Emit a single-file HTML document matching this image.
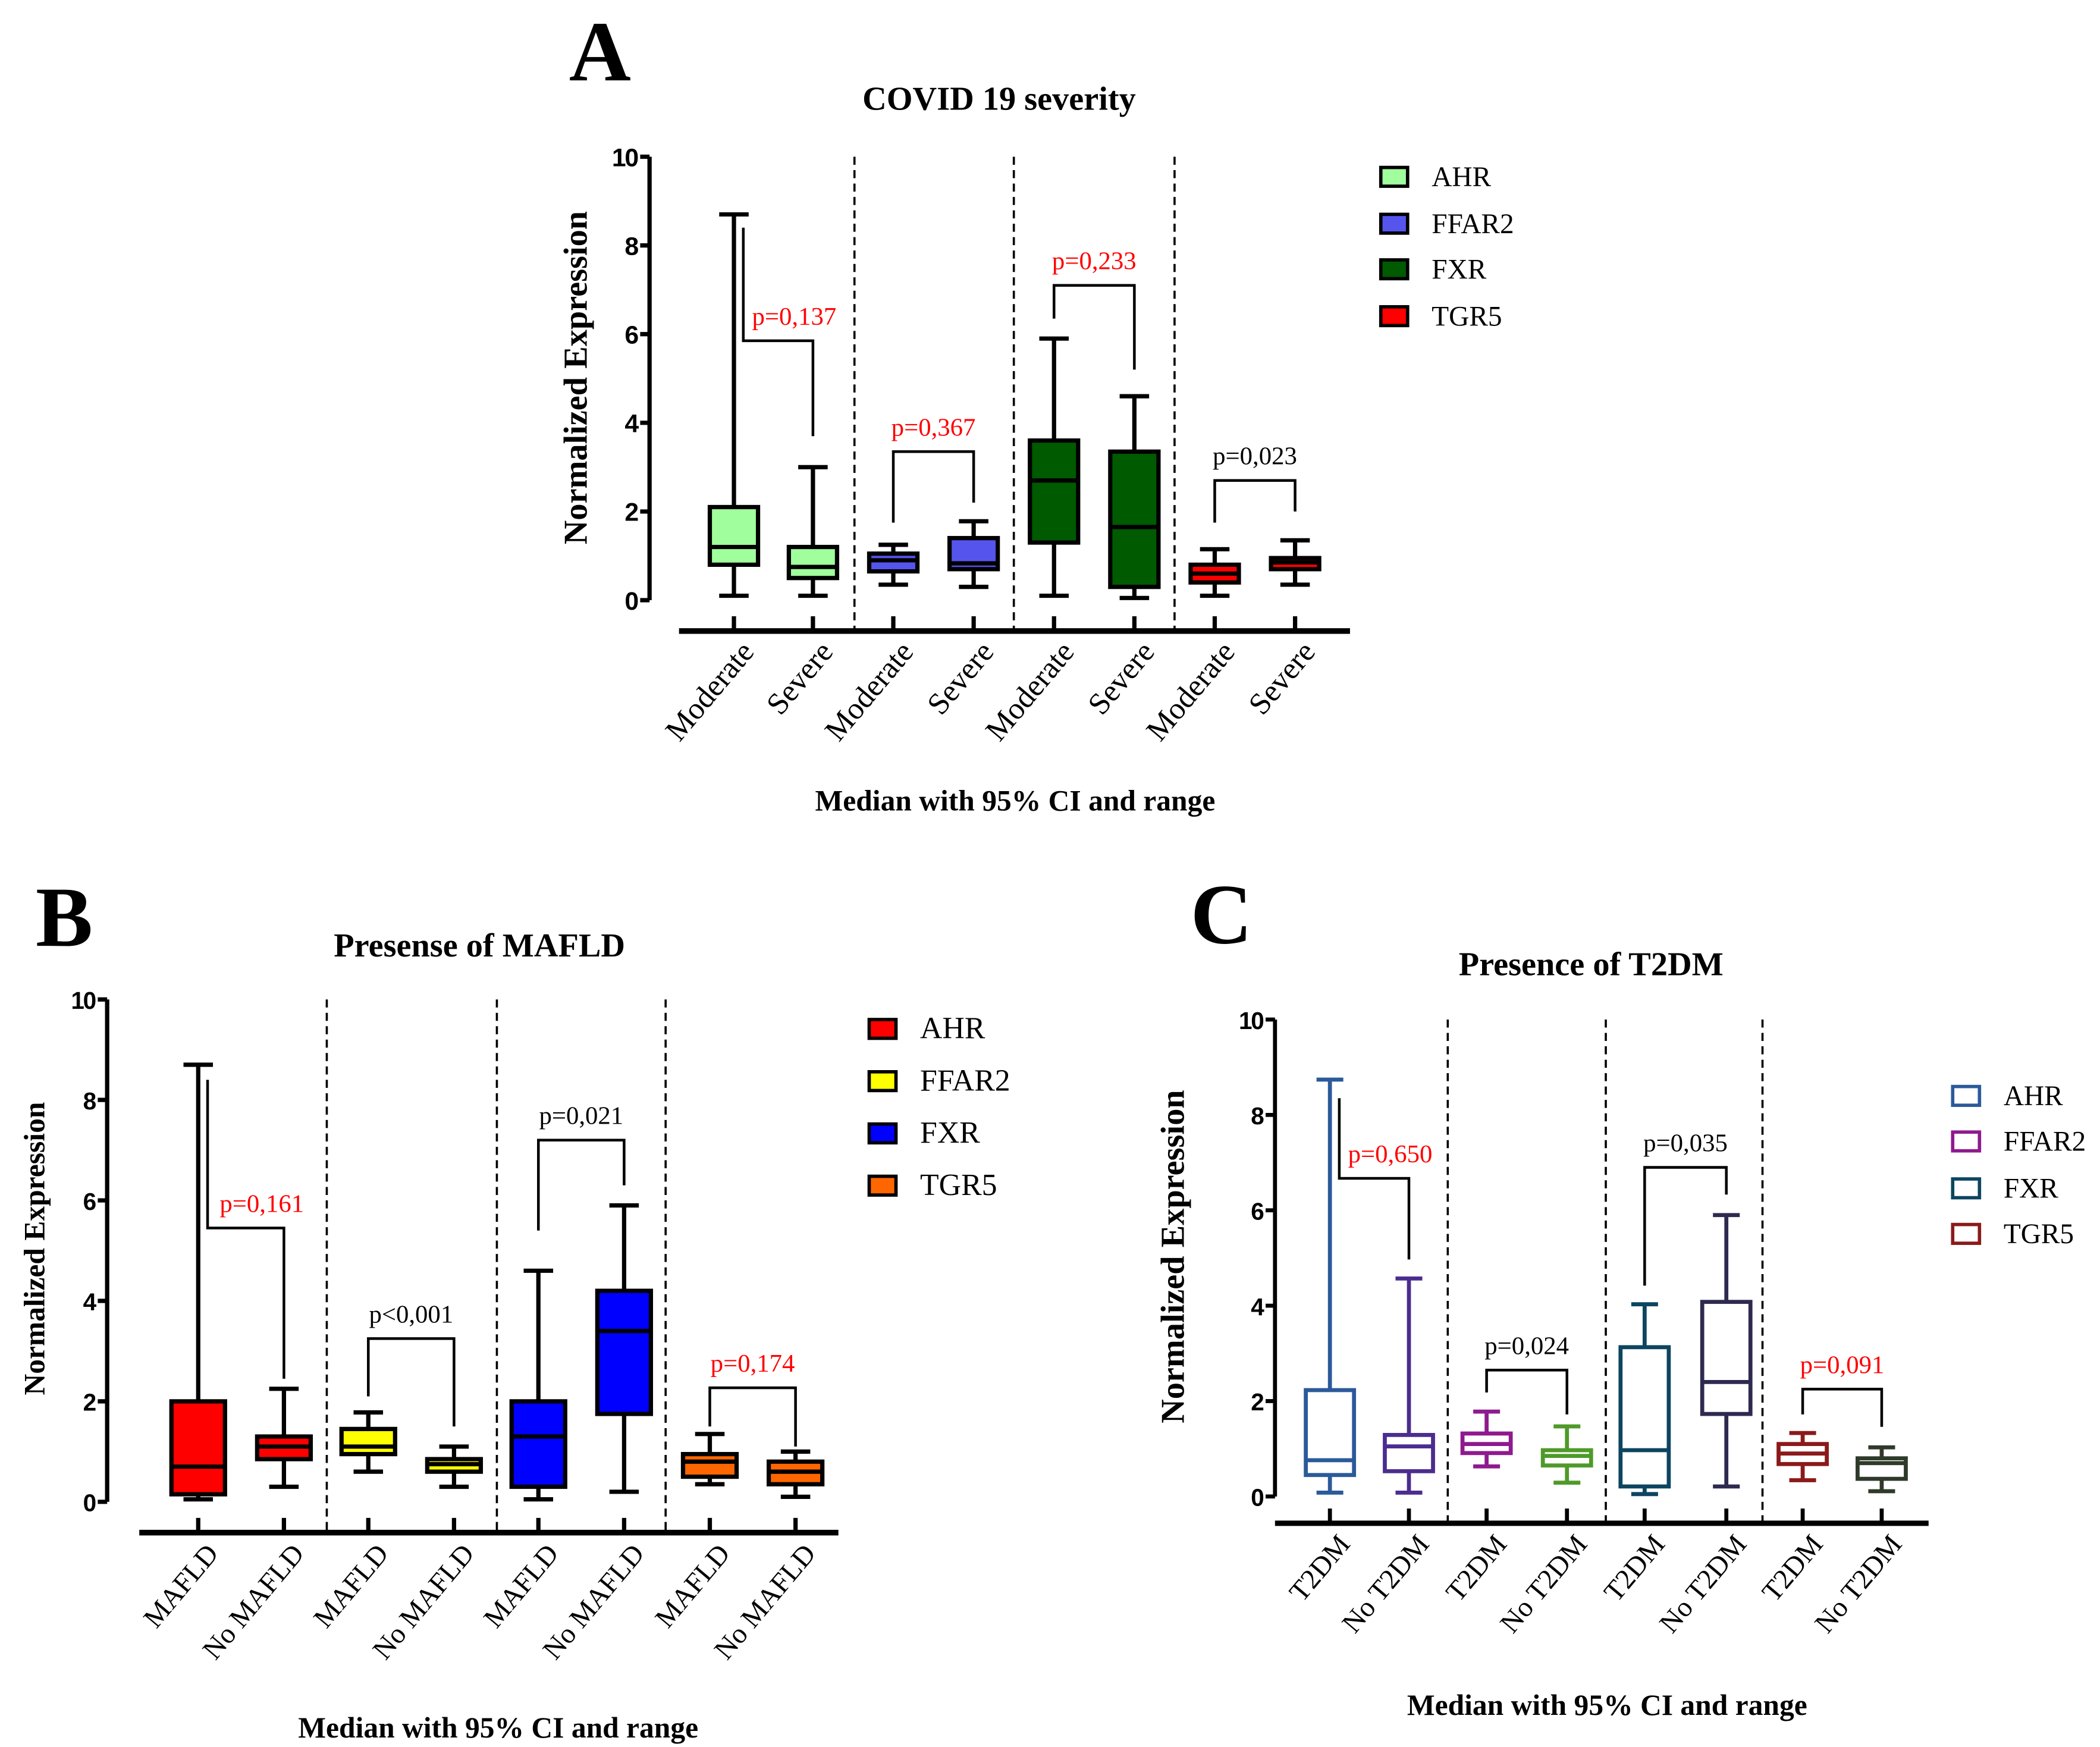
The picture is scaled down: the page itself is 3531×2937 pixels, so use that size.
<!DOCTYPE html>
<html><head><meta charset="utf-8"><style>
html,body{margin:0;padding:0;background:#fff}
svg{display:block}
text{font-family:"Liberation Serif",serif}
</style></head><body>
<svg id="fig" xmlns="http://www.w3.org/2000/svg" width="3531" height="2937" viewBox="0 0 1568 1304" preserveAspectRatio="none">
<rect width="1568" height="1304" fill="#fff"/>
</svg>
<script>
// ---------- Panel A data ----------
const catsA = ["Moderate","Severe","Moderate","Severe","Moderate","Severe","Moderate","Severe"];
const minA = [0.1,0.1,0.35,0.3,0.1,0.05,0.1,0.35];
const q1A  = [0.8,0.5,0.65,0.7,1.3,0.3,0.4,0.7];
const medA = [1.2,0.75,0.9,0.83,2.7,1.65,0.6,0.85];
const q3A  = [2.1,1.2,1.05,1.4,3.6,3.35,0.8,0.95];
const maxA = [8.7,3.0,1.25,1.78,5.9,4.6,1.15,1.35];
const pA = ["p=0,137","p=0,367","p=0,233","p=0,023"];
const brTopA = [5.85,3.35,7.1,2.7];
const brLA = [8.4,1.75,6.35,1.75];
const brRA = [3.7,2.2,5.2,2.0];
const genesA = ["AHR","FFAR2","FXR","TGR5"];
// ---------- Panel B data ----------
const catsB = ["MAFLD","No MAFLD","MAFLD","No MAFLD","MAFLD","No MAFLD","MAFLD","No MAFLD"];
const minB = [0.05,0.3,0.6,0.3,0.05,0.2,0.35,0.1];
const q1B  = [0.15,0.85,0.95,0.6,0.3,1.75,0.5,0.35];
const medB = [0.7,1.1,1.1,0.75,1.3,3.4,0.8,0.6];
const q3B  = [2.0,1.3,1.45,0.85,2.0,4.2,0.95,0.8];
const maxB = [8.7,2.25,1.78,1.1,4.6,5.9,1.35,1.0];
const pB = ["p=0,161","p<0,001","p=0,021","p=0,174"];
const brTopB = [5.45,3.25,7.2,2.27];
const brLB = [8.4,2.1,5.4,1.5];
const brRB = [2.45,1.5,6.3,1.1];
const genesB = ["AHR","FFAR2","FXR","TGR5"];
// ---------- Panel C data ----------
const catsC = ["T2DM","No T2DM","T2DM","No T2DM","T2DM","No T2DM","T2DM","No T2DM"];
const minC = [0.08,0.08,0.63,0.29,0.05,0.21,0.34,0.11];
const q1C  = [0.45,0.53,0.91,0.65,0.21,1.73,0.68,0.37];
const medC = [0.76,1.05,1.1,0.85,0.97,2.4,0.9,0.7];
const q3C  = [2.23,1.29,1.32,0.97,3.13,4.08,1.1,0.8];
const maxC = [8.74,4.57,1.78,1.47,4.03,5.9,1.33,1.03];
const pC = ["p=0,650","p=0,024","p=0,035","p=0,091"];
const brTopC = [6.67,2.65,6.9,2.25];
const brLC = [8.35,2.18,4.42,1.72];
const brRC = [4.97,1.72,6.33,1.46];
const genesC = ["AHR","FFAR2","FXR","TGR5"];
const yTicks = [0,2,4,6,8,10];

const NS="http://www.w3.org/2000/svg";
const svg=document.getElementById('fig');
function mk(tag,attrs,parent){const e=document.createElementNS(NS,tag);for(const k in attrs)e.setAttribute(k,attrs[k]);(parent||svg).appendChild(e);return e;}
function txt(s,attrs,parent){const e=mk('text',attrs,parent);e.textContent=s;return e;}

function panel(o){
  const g=mk('g',{});
  
  
  const y=v=>o.y0-(o.y0-o.y10)*v/10;
  const ya=mk('line',{x1:o.ax,y1:y(10),x2:o.ax,y2:y(0),stroke:'#000','stroke-width':o.sw},g);
  
  
  yTicks.forEach(t=>{
    const tk=mk('line',{x1:o.ax-7,y1:y(t),x2:o.ax,y2:y(t),stroke:'#000','stroke-width':o.sw},g);
    
    
    const tl=txt(String(t),{x:o.ax-9,y:y(t)+7,'text-anchor':'end','font-size':o.tfs,'font-weight':'bold',style:'font-family:"Liberation Sans",sans-serif','letter-spacing':'-1'},g);
    
    
  });
  const xa=mk('line',{x1:o.xs,y1:o.axY,x2:o.xe,y2:o.axY,stroke:'#000','stroke-width':o.sw+1},g);
  
  
  o.dividers.forEach(d=>{
    const dl=mk('line',{x1:d,y1:y(10),x2:d,y2:o.axY,stroke:'#000','stroke-width':1.6,'stroke-dasharray':'6,4'},g);
    
    
  });
  o.cats.forEach((c,i)=>{
    const cx=o.centers[i];
    const tk=mk('line',{x1:cx,y1:o.axY-11,x2:cx,y2:o.axY,stroke:'#000','stroke-width':o.sw},g);
    
    
    const lx=cx+16, ly=o.axY+16;
    const tl=txt(c,{x:lx,y:ly,'text-anchor':'end','font-size':o.xfs,transform:`rotate(-50 ${lx} ${ly})`},g);
    
    
    const gi=Math.floor(i/2);
    const col=o.colors[i];
    const bg=mk('g',{},g);
    
    
    const sc=o.outline? col : '#000';
    const hw=o.bw/2, cw=o.cw/2;
    mk('line',{x1:cx,y1:y(o.max[i]),x2:cx,y2:y(o.q3[i]),stroke:sc,'stroke-width':o.sw},bg);
    mk('line',{x1:cx,y1:y(o.q1[i]),x2:cx,y2:y(o.min[i]),stroke:sc,'stroke-width':o.sw},bg);
    mk('line',{x1:cx-cw,y1:y(o.max[i]),x2:cx+cw,y2:y(o.max[i]),stroke:sc,'stroke-width':o.sw},bg);
    mk('line',{x1:cx-cw,y1:y(o.min[i]),x2:cx+cw,y2:y(o.min[i]),stroke:sc,'stroke-width':o.sw},bg);
    mk('rect',{x:cx-hw,y:y(o.q3[i]),width:o.bw,height:y(o.q1[i])-y(o.q3[i]),fill:o.outline?'#fff':col,stroke:sc,'stroke-width':o.sw},bg);
    mk('line',{x1:cx-hw,y1:y(o.med[i]),x2:cx+hw,y2:y(o.med[i]),stroke:sc,'stroke-width':o.sw},bg);
  });
  o.p.forEach((p,k)=>{
    const a=o.centers[2*k], b=o.centers[2*k+1];
    const lx = k===0 ? a+o.firstOff : a;
    const bgp=mk('g',{},g);
    
    
    mk('polyline',{points:`${lx},${y(o.brL[k])} ${lx},${y(o.brTop[k])} ${b},${y(o.brTop[k])} ${b},${y(o.brR[k])}`,fill:'none',stroke:'#000','stroke-width':2},bgp);
    const red = o.pRed[k];
    const tx = k===0 ? (lx+b)/2+12 : (a+b)/2;
    const tl=txt(p,{x:tx,y:y(o.brTop[k])-12,'text-anchor':'middle','font-size':o.pfs,fill:red?'#f00':'#000'},bgp);
    
    
  });
  o.genes.forEach((gn,k)=>{
    const lg=mk('g',{},g);
    
    
    const c=o.colors[2*k];
    mk('rect',{x:o.lx,y:o.ly[k]-7,width:20,height:14,fill:o.outline?'#fff':c,stroke:o.outline?c:'#000','stroke-width':2.5},lg);
    txt(gn,{x:o.lx+38,y:o.ly[k]+7,'font-size':o.lfs},lg);
  });
  const t=txt(o.title,{x:o.titleX,y:o.titleY,'text-anchor':'middle','font-size':25,'font-weight':'bold'},g);
  
  
  const L=txt(o.letter,{x:o.letterX,y:o.letterY,'text-anchor':'middle','font-size':64,'font-weight':'bold'},g);
  
  
  const yt=txt('Normalized Expression',{x:o.ytX,y:o.ytY,'text-anchor':'middle','font-size':o.ytfs,'font-weight':'bold',transform:`rotate(-90 ${o.ytX} ${o.ytY})`},g);
  
  
  const xt=txt('Median with 95% CI and range',{x:o.xtX,y:o.xtY,'text-anchor':'middle','font-size':22,'font-weight':'bold'},g);
  
  
}

panel({name:'panel-a',letter:'A',letterX:448,letterY:60,title:'COVID 19 severity',titleX:746,titleY:82,
  ax:485,y0:448,y10:117,axY:471,xs:507,xe:1008,centers:[548,607,667,727,787,847,907,967],dividers:[638,757,877],
  bw:36,cw:22,sw:3.2,tfs:19,xfs:23,pfs:19,lfs:21,ytfs:25,ytX:438,ytY:282,xtX:758,xtY:605,
  cats:catsA,min:minA,q1:q1A,med:medA,q3:q3A,max:maxA,p:pA,brTop:brTopA,brL:brLA,brR:brRA,genes:genesA,
  pRed:[true,true,true,false],firstOff:7,
  colors:['#a0ff9c','#a0ff9c','#5555ee','#5555ee','#005a00','#005a00','#ff0000','#ff0000'],outline:false,
  lx:1031,ly:[132,167,201,236]});
panel({name:'panel-b',letter:'B',letterX:48,letterY:706,title:'Presense of MAFLD',titleX:358,titleY:714,
  ax:80,y0:1121,y10:746,axY:1144,xs:104,xe:626,centers:[148,212,275,339,402,466,530,594],dividers:[244,371,497],
  bw:40,cw:22,sw:3.2,tfs:18,xfs:21,pfs:19,lfs:23,ytfs:22,ytX:33,ytY:932,xtX:372,xtY:1297,
  cats:catsB,min:minB,q1:q1B,med:medB,q3:q3B,max:maxB,p:pB,brTop:brTopB,brL:brLB,brR:brRB,genes:genesB,
  pRed:[true,false,false,true],firstOff:7,
  colors:['#ff0000','#ff0000','#ffff00','#ffff00','#0000ff','#0000ff','#ff6600','#ff6600'],outline:false,
  lx:649,ly:[768,807,846,885]});
panel({name:'panel-c',letter:'C',letterX:912,letterY:704,title:'Presence of T2DM',titleX:1188,titleY:728,
  ax:952,y0:1117,y10:761,axY:1137,xs:952,xe:1440,centers:[993,1052,1110,1170,1228,1289,1346,1405],dividers:[1081,1199,1316],
  bw:36,cw:20,sw:3,tfs:18,xfs:21,pfs:19,lfs:21,ytfs:25,ytX:884,ytY:938,xtX:1200,xtY:1280,
  cats:catsC,min:minC,q1:q1C,med:medC,q3:q3C,max:maxC,p:pC,brTop:brTopC,brL:brLC,brR:brRC,genes:genesC,
  pRed:[true,false,false,true],firstOff:7,
  colors:['#2b5a9a','#4b2d8f','#8e1a8e','#4f9a2a','#0d4560','#2e2a4f','#8b1a1a','#2f3a2a'],outline:true,
  lx:1458,ly:[818,852,887,921]});
</script>
</body></html>
